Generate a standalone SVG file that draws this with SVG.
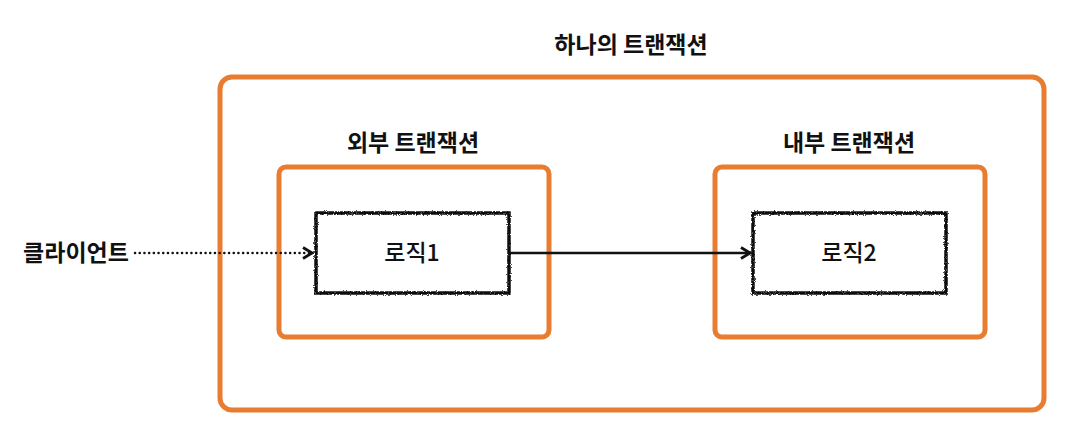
<svg xmlns="http://www.w3.org/2000/svg" width="1090" height="432" viewBox="0 0 1090 432">
<style>
.frame{fill:none;stroke:#E87D31;stroke-width:5}
.logic{fill:#fff;stroke:#111;stroke-width:3.5}
.title{font-family:"Noto Sans CJK KR","Noto Sans",sans-serif;font-weight:bold;font-size:23px;fill:#111;text-anchor:middle}
.label{font-family:"Noto Sans CJK KR","Noto Sans",sans-serif;font-weight:500;font-size:23px;fill:#111;text-anchor:middle}
.conn{fill:none;stroke:#111;stroke-width:2.5}
</style>
<defs>
<filter id="rough" x="-5%" y="-5%" width="110%" height="110%">
<feTurbulence type="fractalNoise" baseFrequency="0.9" numOctaves="2" seed="3" result="n"/>
<feDisplacementMap in="SourceGraphic" in2="n" scale="3" xChannelSelector="R" yChannelSelector="G"/>
</filter>
<marker id="arrow" viewBox="0 0 14 14" refX="12" refY="7" markerWidth="14" markerHeight="14" markerUnits="userSpaceOnUse" orient="auto">
<path d="M3,1.5 L12,7 L3,12.5" fill="none" stroke="#111" stroke-width="2.8" stroke-linejoin="miter"/>
</marker>
</defs>
<g id="tx-all">
<rect class="frame" x="220" y="77" width="824" height="333" rx="12"/>
<text class="title" x="631" y="53">하나의 트랜잭션</text>
</g>
<g id="tx-outer">
<rect class="frame" x="279" y="167" width="270" height="170" rx="7"/>
<text class="title" x="413" y="151">외부 트랜잭션</text>
</g>
<g id="tx-inner">
<rect class="frame" x="715" y="167" width="270" height="170" rx="7"/>
<text class="title" x="849" y="151">내부 트랜잭션</text>
</g>
<g id="client">
<text class="title" x="76" y="261">클라이언트</text>
</g>
<g id="logic1">
<rect class="logic" x="316" y="213" width="193" height="80" filter="url(#rough)"/>
<text class="label" x="412" y="261">로직1</text>
</g>
<g id="logic2">
<rect class="logic" x="753" y="213" width="193" height="80" filter="url(#rough)"/>
<text class="label" x="849" y="261">로직2</text>
</g>
<g id="connectors">
<line class="conn" x1="135" y1="253" x2="312" y2="253" stroke-width="3.5" stroke-dasharray="0.1 4.6" stroke-linecap="round" marker-end="url(#arrow)"/>
<line class="conn" x1="510" y1="253" x2="750" y2="253" marker-end="url(#arrow)"/>
</g>
</svg>
